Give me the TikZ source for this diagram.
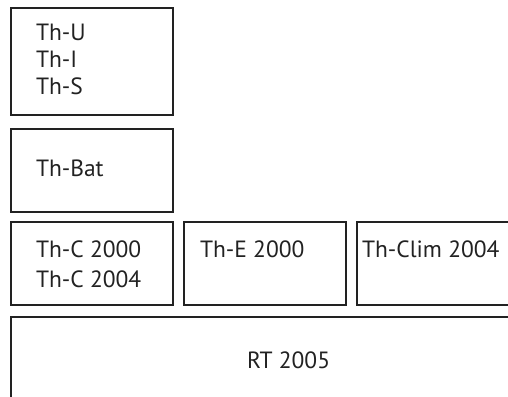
\documentclass[tikz,border=0pt]{standalone}
\usepackage{fontspec}
\setmainfont{PT Sans}
\usepackage{tikz}
\usetikzlibrary{positioning}
\definecolor{inkgray}{HTML}{222222}

\tikzset{
  part/.style={draw=inkgray, line width=1.8pt, rectangle, inner sep=0pt, outer sep=0pt, anchor=north west},
  partlabel/.style={inner sep=0pt, outer sep=0pt, anchor=base west, align=left, text=inkgray,
    font=\fontsize{23.5}{27}\selectfont}
}

\begin{document}
\begin{tikzpicture}[x=1pt,y=-1pt]
            \clip (0,0) rectangle (508,396);
            % upper stack
            \node[part, minimum width=162pt, minimum height=107pt] (usi) at (11,8) {};
            \node[part, minimum width=162pt, minimum height=83pt] (bat) at (11,129) {};
            % middle row
            \node[part, minimum width=162pt, minimum height=83pt] (thc) at (11,222) {};
            \node[part, minimum width=162pt, minimum height=83pt] (the) at (184,222) {};
            \node[part, minimum width=180pt, minimum height=83pt] (clim) at (357,222) {};
            % base
            \node[part, minimum width=520pt, minimum height=110pt] (rt) at (11,317) {};

            % labels (base = last line)
            \node[partlabel] (usilabel) at (36,94) {Th-U\\Th-I\\Th-S};
            \node[partlabel] (batlabel) at (36,176) {Th-Bat};
            \node[partlabel, font=\fontsize{23.5}{30}\selectfont] (thclabel) at (36,287) {Th-C 2000\\Th-C 2004};
            \node[partlabel] (thelabel) at (200,257) {Th-E 2000};
            \node[partlabel] (climlabel) at (362,257) {Th-Clim 2004};
            \node[partlabel] (rtlabel) at (247,368) {RT 2005};
        \end{tikzpicture}
\end{document}
